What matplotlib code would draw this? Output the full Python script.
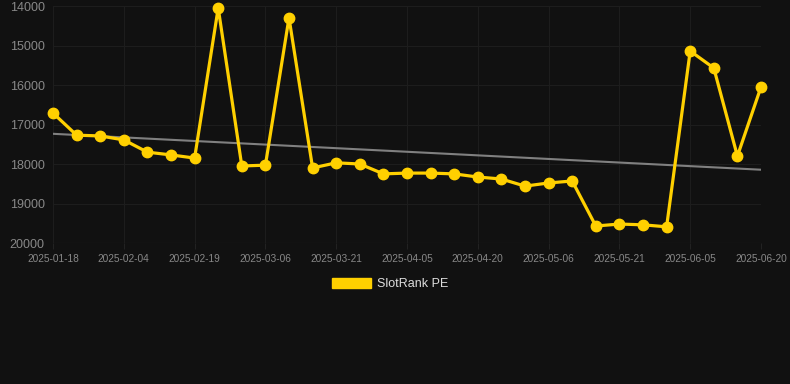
import numpy as np
import matplotlib
matplotlib.use('Agg')
from matplotlib import pyplot as plt
from matplotlib.patches import Patch

# SlotRank PE values, one point every ~5 days
values = [16710, 17270, 17290, 17390, 17700, 17770, 17850, 14050, 18050, 18030,
          14300, 18100, 17970, 18000, 18250, 18230, 18230, 18250, 18330, 18380,
          18560, 18480, 18430, 19570, 19520, 19540, 19590, 15140, 15570, 17800,
          16050]
tick_labels = ['2025-01-18', '2025-02-04', '2025-02-19', '2025-03-06', '2025-03-21',
               '2025-04-05', '2025-04-20', '2025-05-06', '2025-05-21', '2025-06-05',
               '2025-06-20']
y_ticks = [14000, 15000, 16000, 17000, 18000, 19000, 20000]

plt.rcParams['font.family'] = ['Liberation Sans', 'DejaVu Sans']

bg = '#111111'
gold = '#FFD000'
x = np.arange(len(values))

fig = plt.figure(figsize=(7.9, 3.84), dpi=100, facecolor=bg)
ax = fig.add_axes([53 / 790, 1 - 243 / 384, (761 - 53) / 790, (243 - 6) / 384])
ax.set_facecolor(bg)

# linear trend line
k, b = np.polyfit(x, values, 1)
ax.plot(x, k * x + b, color='#808080', lw=1.5, zorder=2)

ax.plot(x, values, color=gold, lw=2.3, marker='o', ms=7.5, zorder=3, clip_on=False)

ax.set_xlim(0, len(values) - 1)
ax.set_ylim(20000, 14000)
ax.set_xticks(x[::3])
ax.set_xticklabels(tick_labels)
ax.set_yticks(y_ticks)
ax.grid(True, color='#1d1d1d', lw=0.8)
ax.axhline(20000, color='#2a2a2a', lw=0.8, zorder=1)
ax.tick_params(axis='x', colors='#222222', labelcolor='#888888', labelsize=7.3, length=4, pad=4)
ax.tick_params(axis='y', length=0, labelcolor='#888888', labelsize=9, pad=6)
for s in ax.spines.values():
    s.set_visible(False)

fig.legend(handles=[Patch(color=gold, label='SlotRank PE')], loc='center',
           bbox_to_anchor=(390 / 790, 1 - 284 / 384), frameon=False,
           labelcolor='#dddddd', fontsize=9, handlelength=3.1, handleheight=0.9,
           handletextpad=0.5)

fig.savefig('out.png', dpi=100, facecolor=bg)
